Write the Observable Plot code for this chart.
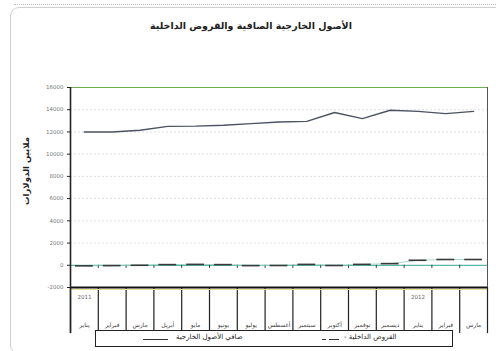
<!DOCTYPE html>
<html lang="ar">
<head>
<meta charset="utf-8">
<script src="https://cdn.jsdelivr.net/npm/d3@7"></script>
<script src="https://cdn.jsdelivr.net/npm/@observablehq/plot@0.6"></script>
<style>
  html, body { margin: 0; padding: 0; background: #fff; }
  body { font-family: "DejaVu Sans", sans-serif; }
  #wrap { position: relative; width: 496px; height: 351px; overflow: hidden; background: #fff; }
  #frame { position: absolute; left: 10px; top: 7px; width: 500px; height: 345px; border: 1px solid #cfcfcf; border-radius: 9px; }
  #topline { position: absolute; left: 14px; top: 4px; width: 482px; border-top: 1px dotted #bbb; }
  #chart { position: absolute; left: 0; top: 0; }
  #title { position: absolute; left: 0; width: 502px; top: 20px; text-align: center; font-weight: bold; font-size: 9.5px; color: #222; direction: rtl; }
  #ylabel { position: absolute; left: 26px; top: 171px; transform: translate(-50%, -50%) rotate(-90deg); font-weight: bold; font-size: 8.5px; color: #222; white-space: nowrap; direction: rtl; }
  #legend { position: absolute; left: 95px; top: 330px; width: 356px; height: 15px; border: 1.5px solid #222; background: #fff; font-size: 7px; color: #222; }
  #legend span { position: absolute; top: 2px; white-space: nowrap; direction: rtl; }
  #legend i { position: absolute; top: 8px; height: 0; border-top: 1px solid #333; }
</style>
</head>
<body>
<div id="wrap">
  <div id="topline"></div>
  <div id="frame"></div>
  <div id="chart"></div>
  <div id="title"></div>
  <div id="ylabel"></div>
  <div id="legend"></div>
</div>
<script>
// ---- data ----
const months = ["يناير","فبراير","مارس","أبريل","مايو","يونيو","يوليو","أغسطس","سبتمبر","أكتوبر","نوفمبر","ديسمبر","يناير","فبراير","مارس"];
const years = ["2011","","","","","","","","","","","","2012","",""];
const netForeignAssets = [12000, 12000, 12150, 12500, 12520, 12600, 12750, 12900, 12950, 13750, 13200, 13950, 13850, 13650, 13850];
const domesticLoans = [-50, -30, 0, 60, 80, 60, -30, -20, 80, -20, 80, 150, 450, 520, 520];
const yTicks = [-2000, 0, 2000, 4000, 6000, 8000, 10000, 12000, 14000, 16000];
const titleText = "الأصول الخارجية الصافية والقروض الداخلية";
const yLabelText = "ملايين الدولارات";
const seriesNames = ["صافي الأصول الخارجية", "القروض الداخلية -"];

// ---- derived ----
const bounds = d3.range(months.length + 1).map(i => i - 0.5);
const yMin = yTicks[0], yMax = yTicks[yTicks.length - 1];
const boxDepth = -6150; // y value at bottom of category box (below axis)

const plot = Plot.plot({
  width: 496,
  height: 351,
  marginLeft: 70,
  marginRight: 9,
  marginTop: 87,
  marginBottom: 64,
  style: { background: "transparent", fontFamily: "DejaVu Sans, sans-serif", overflow: "visible" },
  x: { type: "linear", domain: [-0.5, months.length - 0.5], axis: null },
  y: { domain: [yMin, yMax], axis: null },
  marks: [
    Plot.ruleY(yTicks.filter(v => v > yMin && v < yMax && v !== 0), { stroke: "#d6d6d6", strokeDasharray: "2,2", strokeWidth: 0.8 }),
    Plot.ruleY([yMax], { stroke: "#6fae4f", strokeWidth: 1.2 }),
    Plot.ruleY([0], { stroke: "#58b8a6", strokeWidth: 1.2 }),
    Plot.ruleX(bounds.slice(1, -1), { x: d => d, y1: 0, y2: -280, stroke: "#333", strokeWidth: 1 }),
    Plot.ruleX(bounds, { x: d => d, y1: yMin, y2: boxDepth, stroke: "#222", strokeWidth: 1.2 }),
    Plot.ruleX([bounds[bounds.length - 1]], { x: d => d, y1: yMax, y2: yMin, stroke: "#555", strokeWidth: 1 }),
    Plot.ruleY([yMin], { stroke: "#e8e090", strokeWidth: 1, dy: 2 }),
    Plot.ruleY([yMin], { stroke: "#111", strokeWidth: 2 }),
    Plot.ruleX([bounds[0]], { x: d => d, y1: yMax, y2: boxDepth, stroke: "#222", strokeWidth: 1.6 }),
    Plot.axisY({ ticks: yTicks, tickSize: 3, tickPadding: 4, fontSize: 5.5, fill: "#777", stroke: "#222", tickFormat: d => String(d), label: null }),
    Plot.line(netForeignAssets, { x: (d, i) => i, y: d => d, stroke: "#4c5262", strokeWidth: 1.4 }),
    Plot.line(domesticLoans, { x: (d, i) => i, y: d => d, stroke: "#8fd0c4", strokeWidth: 0.8 }),
    Plot.ruleY(domesticLoans, { y: d => d, x1: (d, i) => i - 0.32, x2: (d, i) => i + 0.32, stroke: "#3a3a3a", strokeWidth: 1.6 }),
    Plot.text(months, { x: (d, i) => i, y: yMin, dy: 38, text: d => d, fontSize: 6, fill: "#444" }),
    Plot.text(years, { x: (d, i) => i, y: yMin, dy: 10, text: d => d, fontSize: 5.5, fill: "#666" })
  ]
});
document.getElementById("chart").appendChild(plot);

document.getElementById("title").textContent = titleText;
document.getElementById("ylabel").textContent = yLabelText;

const legend = document.getElementById("legend");
legend.innerHTML =
  `<i style="left:47px;width:25px"></i><span style="left:80px">${seriesNames[0]}</span>` +
  `<i style="left:226px;width:4px"></i><i style="left:233px;width:10px"></i><span style="left:248px">${seriesNames[1]}</span>`;
</script>
</body>
</html>
